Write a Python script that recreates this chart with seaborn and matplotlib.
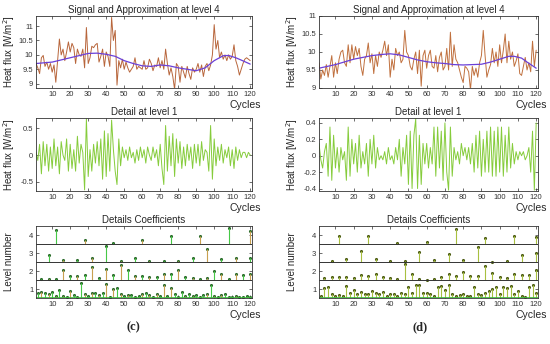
import matplotlib
matplotlib.use("Agg")
import matplotlib.pyplot as plt
import seaborn as sns
import numpy as np
import pandas as pd

# ---- データ ----
cycles = np.arange(1, 121)

# (c) 信号
signal_c = [9.70, 9.55, 9.35, 9.90, 9.98, 9.60, 9.75, 9.50, 9.70, 9.40,
            9.65, 9.05, 9.80, 10.55, 10.00, 10.20, 9.80, 10.10, 10.45, 10.10,
            10.40, 10.25, 9.70, 10.20, 10.00, 9.95, 10.20, 9.55, 10.95, 9.70,
            9.90, 10.30, 10.25, 10.35, 10.40, 9.75, 9.95, 10.20, 9.60, 10.10,
            9.95, 9.60, 11.30, 10.50, 10.85, 8.95, 9.80, 9.55, 9.85, 9.50,
            9.75, 9.55, 9.40, 9.50, 9.60, 9.90, 9.50, 9.60, 9.55, 9.50,
            9.80, 9.50, 9.55, 9.85, 9.70, 9.45, 9.65, 9.60, 9.90, 9.55,
            9.80, 9.50, 10.20, 9.70, 9.30, 9.55, 9.25, 8.80, 9.70, 9.60,
            9.05, 9.60, 9.40, 9.20, 9.60, 9.35, 9.15, 9.55, 9.40, 9.50,
            9.70, 9.40, 9.65, 9.25, 9.60, 9.70, 9.45, 9.65, 10.00, 11.05,
            10.20, 10.50, 9.90, 10.10, 9.85, 10.00, 9.80, 10.00, 9.85, 9.95,
            10.35, 9.80, 9.60, 9.30, 9.50, 9.70, 9.85, 9.90, 9.85, 9.80]
approx_cycles = [1, 10, 20, 30, 35, 40, 45, 50, 55, 60, 65, 70, 75, 80, 85, 90,
                 95, 100, 105, 108, 112, 115, 120]
approx_c = [9.70, 9.75, 9.90, 10.05, 10.06, 10.02, 9.95, 9.80, 9.70, 9.62, 9.60,
            9.65, 9.62, 9.55, 9.50, 9.45, 9.55, 9.80, 9.97, 9.98, 9.90, 9.82, 9.68]

# (d) 信号
signal_d = [9.70, 9.25, 9.50, 9.35, 9.65, 9.30, 9.60, 9.90, 9.30, 9.70,
            9.40, 9.80, 10.00, 10.05, 9.70, 9.60, 10.20, 9.70, 10.20, 9.80,
            10.15, 9.90, 10.10, 9.60, 9.35, 9.80, 9.90, 10.25, 9.70, 9.95,
            9.40, 9.90, 9.60, 10.00, 9.85, 10.05, 10.30, 9.90, 10.20, 9.30,
            9.80, 9.50, 10.10, 9.90, 10.00, 9.70, 9.80, 10.60, 10.00, 9.90,
            9.60, 9.50, 9.80, 10.00, 9.40, 10.05, 9.05, 9.90, 10.05, 9.55,
            9.90, 10.05, 9.60, 9.55, 9.90, 9.45, 9.85, 10.00, 9.50, 9.60,
            10.10, 9.50, 10.55, 9.60, 10.20, 9.80, 9.70, 9.50, 9.30, 9.15,
            9.60, 9.55, 9.45, 8.95, 9.60, 9.35, 9.55, 9.30, 9.70, 9.90,
            10.60, 9.90, 9.30, 9.50, 9.65, 10.10, 9.70, 10.00, 9.60, 10.20,
            9.70, 10.05, 10.50, 9.70, 10.30, 9.80, 10.00, 9.60, 9.75, 9.95,
            9.40, 9.35, 9.60, 9.85, 9.50, 9.70, 9.45, 10.30, 9.60, 10.05]
approx_d = [9.55, 9.65, 9.80, 9.90, 9.93, 9.95, 9.92, 9.85, 9.78, 9.73, 9.70,
            9.68, 9.65, 9.64, 9.65, 9.66, 9.72, 9.80, 9.88, 9.88, 9.83, 9.72, 9.55]

# 詳細 level 1
detail_c = [0.05, -0.10, 0.20, -0.35, 0.25, -0.20, 0.20, -0.30, 0.15, -0.25,
            0.30, -0.20, 0.15, -0.35, 0.25, 0.00, -0.10, 0.30, -0.30, 0.20,
            -0.25, 0.10, -0.30, 0.35, -0.15, 0.20, 0.05, -0.65, 0.68, -0.40,
            0.10, -0.30, 0.20, -0.15, 0.25, -0.20, 0.30, -0.45, 0.45, -0.40,
            0.40, -0.30, 0.65, 0.10, -0.30, -0.55, 0.30, -0.20, 0.15, -0.05,
            0.10, -0.10, 0.15, -0.05, 0.05, -0.15, 0.10, -0.10, 0.15, -0.05,
            0.10, -0.15, 0.15, 0.00, -0.10, 0.15, -0.05, 0.10, -0.20, 0.20,
            -0.25, -0.55, 0.55, -0.30, 0.35, -0.20, 0.40, -0.40, 0.30, -0.15,
            0.25, -0.25, 0.15, -0.20, 0.20, -0.10, 0.15, -0.25, 0.20, -0.15,
            0.20, -0.20, 0.25, -0.10, 0.10, 0.05, -0.30, 0.55, -0.45, 0.30,
            -0.20, 0.15, -0.10, 0.20, -0.15, 0.10, -0.05, 0.15, -0.20, 0.10,
            -0.25, 0.15, -0.10, 0.10, -0.05, 0.05, 0.05, -0.05, 0.05, 0.00]
detail_d = [0.15, -0.05, -0.15, 0.05, 0.15, -0.25, 0.35, -0.30, 0.25, -0.15,
            0.10, -0.20, 0.10, -0.05, 0.05, -0.30, 0.35, -0.25, 0.20, -0.10,
            0.15, -0.20, 0.25, -0.15, 0.05, -0.10, 0.15, -0.25, 0.20, -0.10,
            0.25, -0.15, 0.10, -0.05, 0.00, -0.05, 0.05, -0.10, 0.10, -0.05,
            0.00, -0.10, 0.10, -0.05, 0.20, -0.25, 0.10, -0.10, 0.25, -0.35,
            0.30, -0.40, 0.25, 0.45, -0.40, 0.25, -0.35, 0.15, -0.10, 0.15,
            -0.15, 0.10, -0.10, 0.35, -0.25, 0.35, -0.15, 0.30, -0.30, 0.40,
            -0.20, -0.42, 0.35, -0.25, 0.10, -0.05, 0.05, -0.10, 0.15, 0.00,
            0.10, -0.05, 0.10, -0.10, 0.15, -0.20, 0.25, -0.15, 0.30, -0.25,
            0.20, -0.20, 0.30, -0.20, 0.35, -0.25, 0.30, -0.25, 0.35, -0.20,
            0.35, -0.25, 0.25, -0.20, 0.35, -0.15, 0.15, -0.10, 0.05, -0.05,
            0.05, 0.00, 0.05, -0.05, 0.00, 0.10, -0.20, 0.30, -0.42, 0.40]

# 係数 (各レベルの基準線からの高さ)
lvl4_cycles = [12, 28, 44, 60, 76, 92, 108, 120]
lvl3_cycles = list(range(8, 121, 8))
lvl2_cycles = list(range(4, 121, 4))
lvl1_cycles = list(range(2, 121, 2))

coef_c = {
    4: [0.78, 0.25, 0.05, 0.25, 0.45, 0.45, 0.88, 0.70],
    3: [0.40, 0.10, 0.10, 0.25, 0.90, 0.05, 0.20, 0.05, 0.05, 0.05, 0.20, 0.70,
        0.15, 0.20, 0.25],
    2: [0.05, 0.05, 0.05, 0.55, 0.25, 0.25, 0.30, 0.70, 0.10, 0.60, 0.30, 0.85,
        0.55, 0.20, 0.20, 0.15, 0.15, 0.35, 0.35, 0.55, 0.15, 0.10, 0.05, 0.10,
        0.50, 0.35, 0.05, 0.35, 0.30, 0.35],
    1: [0.30, 0.35, 0.30, 0.20, 0.35, 0.10, 0.45, 0.10, 0.05, 0.40,
        0.15, 0.05, 0.85, 0.25, 0.10, 0.30, 0.30, 0.15, 0.30, 0.80,
        0.05, 0.50, 0.55, 0.20, 0.10, 0.15, 0.15, 0.05, 0.10, 0.20,
        0.30, 0.15, 0.05, 0.20, 0.10, 0.70, 0.10, 0.55, 0.20, 0.05,
        0.35, 0.10, 0.25, 0.10, 0.15, 0.05, 0.15, 0.20, 0.70, 0.10,
        0.05, 0.15, 0.20, 0.05, 0.05, 0.10, 0.05, 0.05, 0.10, 0.05],
}
coef_d = {
    4: [0.45, 0.42, 0.05, 0.12, 0.85, 0.35, 0.45, 0.40],
    3: [0.05, 0.15, 0.60, 0.15, 0.05, 0.05, 0.55, 0.10, 0.45, 0.10, 0.85, 0.02,
        0.05, 0.40, 0.50],
    2: [0.10, 0.15, 0.15, 0.15, 0.10, 0.30, 0.20, 0.35, 0.15, 0.10, 0.05, 0.90,
        0.35, 0.05, 0.02, 0.05, 0.15, 0.35, 0.20, 0.45, 0.20, 0.20, 0.80, 0.40,
        0.15, 0.10, 0.35, 0.30, 0.30, 0.55],
    1: [0.10, 0.55, 0.60, 0.20, 0.10, 0.15, 0.10, 0.65, 0.30, 0.45,
        0.20, 0.35, 0.25, 0.20, 0.40, 0.30, 0.25, 0.35, 0.10, 0.20,
        0.25, 0.10, 0.30, 0.20, 0.60, 0.30, 0.75, 0.70, 0.30, 0.30,
        0.25, 0.10, 0.60, 0.65, 0.45, 0.75, 0.20, 0.10, 0.15, 0.20,
        0.10, 0.10, 0.60, 0.20, 0.15, 0.30, 0.40, 0.50, 0.60, 0.20,
        0.60, 0.55, 0.65, 0.20, 0.40, 0.10, 0.05, 0.60, 0.75, 0.30],
}
level_cycles = {4: lvl4_cycles, 3: lvl3_cycles, 2: lvl2_cycles, 1: lvl1_cycles}

xticks = list(range(10, 121, 10))

# ---- スタイル ----
sns.set_style("ticks")
plt.rcParams["font.family"] = ["Liberation Sans", "DejaVu Sans"]
plt.rcParams["axes.linewidth"] = 0.6
plt.rcParams["axes.edgecolor"] = "#333333"

fig = plt.figure(figsize=(5.5, 3.44), dpi=100)

col_x = [36 / 550, 319 / 550]
col_w = [216 / 550, 219 / 550]
rows = [(1 - 88 / 344, 72 / 344), (1 - 191 / 344, 73 / 344), (1 - 298 / 344, 72 / 344)]


def style_ax(ax, ylabel):
    ax.set_xlim(1, 121)
    ax.set_xticks(xticks)
    ax.tick_params(direction="in", length=2, width=0.5, labelsize=5.5,
                   top=True, right=True, pad=2, colors="#333333")
    ax.set_xlabel("Cycles", fontsize=7.5, ha="right", va="top")
    ax.xaxis.set_label_coords(1.04, -0.17)
    ax.set_ylabel(ylabel, fontsize=7, va="center")
    ax.yaxis.set_label_coords(-0.125, 0.5)
    for s in ax.spines.values():
        s.set_linewidth(0.6)


panels = [
    (signal_c, approx_c, detail_c, coef_c, (8.85, 11.35), [9, 9.5, 10, 10.5, 11],
     (-0.67, 0.69), [-0.5, 0, 0.5], "#b8663c", ["#46c846", "#c8a050"], "#2a6a2a"),
    (signal_d, approx_d, detail_d, coef_d, (9.0, 11.0), [9, 9.5, 10, 10.5, 11],
     (-0.43, 0.46), [-0.4, -0.2, 0, 0.2, 0.4], "#c0703e", ["#a8c040", "#a8c040"], "#4a5a10"),
]

for i, (sig, appr, det, coef, ylim1, yt1, ylim2, yt2, sigcol, stemcols, mkcol) in enumerate(panels):
    # 信号と近似
    ax1 = fig.add_axes([col_x[i], rows[0][0], col_w[i], rows[0][1]])
    df_sig = pd.DataFrame({"cycle": cycles, "flux": sig})
    df_app = pd.DataFrame({"cycle": approx_cycles, "flux": appr})
    sns.lineplot(data=df_sig, x="cycle", y="flux", ax=ax1, color=sigcol, linewidth=0.7)
    sns.lineplot(data=df_app, x="cycle", y="flux", ax=ax1, color="#6a40d8", linewidth=0.9)
    ax1.set_ylim(*ylim1)
    ax1.set_yticks(yt1)
    ax1.set_yticklabels([f"{v:g}" for v in yt1])
    style_ax(ax1, "Heat flux [W/m$^2$]")
    ax1.set_title("Signal and Approximation at level 4", fontsize=7, pad=2)

    # 詳細 level 1
    ax2 = fig.add_axes([col_x[i], rows[1][0], col_w[i], rows[1][1]])
    df_det = pd.DataFrame({"cycle": cycles, "flux": det})
    sns.lineplot(data=df_det, x="cycle", y="flux", ax=ax2, color="#86cc3c", linewidth=0.7)
    ax2.set_ylim(*ylim2)
    ax2.set_yticks(yt2)
    ax2.set_yticklabels([f"{v:g}" for v in yt2])
    style_ax(ax2, "Heat flux [W/m$^2$]")
    ax2.set_title("Detail at level 1", fontsize=7, pad=2)

    # 係数
    ax3 = fig.add_axes([col_x[i], rows[2][0], col_w[i], rows[2][1]])
    for lvl in [1, 2, 3, 4]:
        base = lvl - 0.5
        xs = level_cycles[lvl]
        tops = [base + h for h in coef[lvl]]
        cols = [stemcols[k % 2] for k in range(len(xs))]
        ax3.vlines(xs, base, tops, colors=cols, linewidth=0.8)
        df_st = pd.DataFrame({"cycle": xs, "top": tops})
        sns.scatterplot(data=df_st, x="cycle", y="top", ax=ax3, color=mkcol,
                        s=5, marker="o", edgecolor=None, linewidth=0)
        if lvl > 1:
            ax3.axhline(base, color="#333333", linewidth=0.7)
    ax3.axhline(0.5, color="#3cbc3c", linewidth=1.2)
    ax3.set_ylim(0.5, 4.5)
    ax3.set_yticks([1, 2, 3, 4])
    style_ax(ax3, "Level number")
    ax3.set_title("Details Coefficients", fontsize=7, pad=2)

fig.text(133 / 550, 1 - 327 / 344, "(c)", family=["Liberation Serif", "DejaVu Serif"],
         fontweight="bold", fontsize=9, ha="center", va="center")
fig.text(420 / 550, 1 - 327 / 344, "(d)", family=["Liberation Serif", "DejaVu Serif"],
         fontweight="bold", fontsize=9, ha="center", va="center")

fig.savefig("out.png", dpi=100)
